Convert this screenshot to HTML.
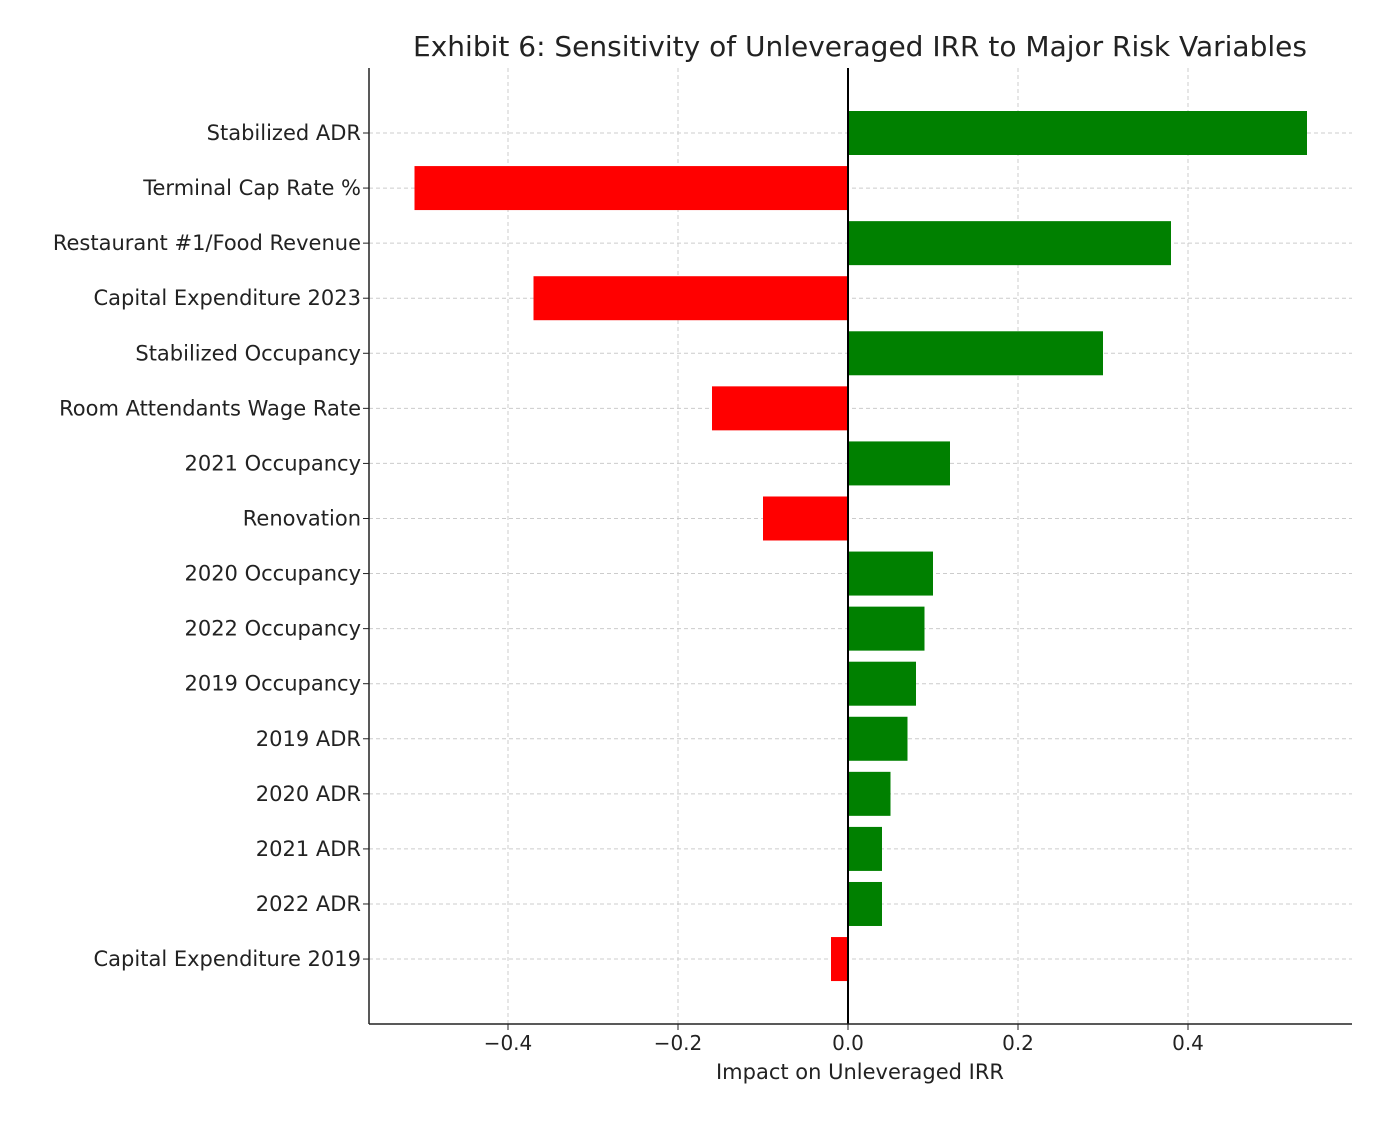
<!DOCTYPE html>
<html><head><meta charset="utf-8"><style>
body{margin:0;background:#fff;}
svg text{font-family:"DejaVu Sans","Liberation Sans",sans-serif;fill:#222;}
</style></head><body>
<svg id="chart" width="1400" height="1132" xmlns="http://www.w3.org/2000/svg">
<text x="860" y="56" font-size="28" text-anchor="middle" fill="#333">Exhibit 6: Sensitivity of Unleveraged IRR to Major Risk Variables</text>
<g id="grid"></g><g id="bars"></g><g id="axes"></g>
<text x="860" y="1079" font-size="21" text-anchor="middle">Impact on Unleveraged IRR</text>
</svg>
<script>
const categories=["Stabilized ADR","Terminal Cap Rate %","Restaurant #1/Food Revenue","Capital Expenditure 2023","Stabilized Occupancy","Room Attendants Wage Rate","2021 Occupancy","Renovation","2020 Occupancy","2022 Occupancy","2019 Occupancy","2019 ADR","2020 ADR","2021 ADR","2022 ADR","Capital Expenditure 2019"];
const values=[0.54,-0.51,0.38,-0.37,0.30,-0.16,0.12,-0.10,0.10,0.09,0.08,0.07,0.05,0.04,0.04,-0.02];
const ticks=[-0.4,-0.2,0.0,0.2,0.4];
const tickLabels=["\u22120.4","\u22120.2","0.0","0.2","0.4"];
const NS="http://www.w3.org/2000/svg";
const L=369,R=1352,T=68,B=1024;
const x=v=>848+v*850;
const y=i=>133+i*55.07;
const bh=44;
function mk(tag,attrs,parent){const e=document.createElementNS(NS,tag);for(const k in attrs)e.setAttribute(k,attrs[k]);parent.appendChild(e);return e;}
const grid=document.getElementById('grid'),bars=document.getElementById('bars'),axes=document.getElementById('axes');
ticks.forEach((t,i)=>{
  const g=mk('line',{x1:x(t),x2:x(t),y1:T,y2:B,stroke:'#ccc','stroke-dasharray':'4,3','stroke-width':1},grid);
  
  
  const tk=mk('line',{x1:x(t),x2:x(t),y1:B,y2:B+6,stroke:'#222'},axes);
  
  
  const tl=mk('text',{x:x(t),y:B+26,'font-size':20,'text-anchor':'middle'},axes);
  tl.textContent=tickLabels[i];
  
  
});
categories.forEach((c,i)=>{
  const g=mk('line',{x1:L,x2:R,y1:y(i),y2:y(i),stroke:'#ccc','stroke-dasharray':'4,3','stroke-width':1},grid);
  
  
  const v=values[i];
  const b=mk('rect',{x:Math.min(x(0),x(v)),y:y(i)-bh/2,width:Math.abs(x(v)-x(0)),height:bh,fill:v>=0?'#008000':'#ff0000'},bars);
  
  
  const tk=mk('line',{x1:L-6,x2:L,y1:y(i),y2:y(i),stroke:'#222'},axes);
  
  
  const tl=mk('text',{x:L-8,y:y(i)+7,'font-size':21,'text-anchor':'end'},axes);
  tl.textContent=c;
  
  
});
const z=mk('line',{x1:x(0),x2:x(0),y1:T,y2:B,stroke:'#000','stroke-width':2},axes);


const ls=mk('line',{x1:L,x2:L,y1:T,y2:B,stroke:'#222','stroke-width':1.5},axes);


const bs=mk('line',{x1:L,x2:R,y1:B,y2:B,stroke:'#222','stroke-width':1.5},axes);


</script>
</body></html>
